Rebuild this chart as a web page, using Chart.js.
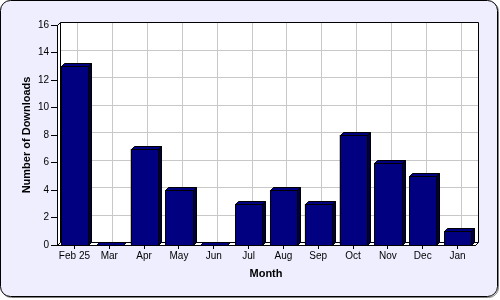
<!DOCTYPE html>
<html lang="en">
    <head>
        <meta charset="UTF-8">
        <title>Downloads per Month</title>
        <style>
            body { margin: 0; background: #ffffff; }
            #wrap { width: 500px; height: 300px; }
        </style>
    </head>

    <script src="https://cdn.jsdelivr.net/npm/chart.js"></script>

    <body>
        <div id="wrap"><canvas id="myChart" width="500" height="300"></canvas></div>
    </body>

    <script>
        // data
        const months = ["Feb 25", "Mar", "Apr", "May", "Jun", "Jul", "Aug", "Sep", "Oct", "Nov", "Dec", "Jan"];
        const downloads = [13, 0, 7, 4, 0, 3, 4, 3, 8, 6, 5, 1];
        const yTicks = [0, 2, 4, 6, 8, 10, 12, 14, 16];

        const DEPTH = 3;
        const NAVY = "#000080";
        const SIDE = "#00003c";

        function poly(ctx, pts, fill, stroke) {
            ctx.beginPath();
            ctx.moveTo(pts[0][0], pts[0][1]);
            for (let i = 1; i < pts.length; i++) ctx.lineTo(pts[i][0], pts[i][1]);
            ctx.closePath();
            if (fill) { ctx.fillStyle = fill; ctx.fill(); }
            if (stroke) { ctx.strokeStyle = stroke; ctx.lineWidth = 1; ctx.stroke(); }
        }

        // frame, back wall, floor and grid (grid sits on the back wall, shifted by the depth)
        const wallPlugin = {
            id: 'wall',
            beforeDraw(chart) {
                const ctx = chart.ctx;
                const a = chart.chartArea;
                const xs = chart.scales.x, ys = chart.scales.y;
                const L = Math.round(a.left) + 0.5, R = Math.round(a.right) + 0.5;
                const T = Math.round(a.top) + 0.5, B = Math.round(a.bottom) + 0.5;
                const d = DEPTH;
                ctx.save();
                // outer frame
                ctx.beginPath();
                ctx.roundRect(1.5, 1.5, 497, 296, 10);
                ctx.strokeStyle = "#808080"; ctx.lineWidth = 1; ctx.stroke();
                ctx.beginPath();
                ctx.roundRect(0.5, 0.5, 497, 296, 10);
                ctx.fillStyle = "#eeeeff"; ctx.fill();
                ctx.strokeStyle = "#000000"; ctx.stroke();

                // back wall
                ctx.fillStyle = "#ffffff";
                ctx.fillRect(L + d, T - d, R - L, B - T);
                // grid
                ctx.strokeStyle = "#c8c8c8";
                yTicks.forEach(v => {
                    if (v === 0) return;
                    const y = Math.round(ys.getPixelForValue(v)) + 0.5 - d;
                    ctx.beginPath(); ctx.moveTo(L + d, y); ctx.lineTo(R + d, y); ctx.stroke();
                });
                months.forEach((m, i) => {
                    const x = Math.round(xs.getPixelForValue(i)) + 0.5 + d;
                    ctx.beginPath(); ctx.moveTo(x, T - d); ctx.lineTo(x, B - d); ctx.stroke();
                });
                // back wall border
                ctx.strokeStyle = "#000000";
                ctx.beginPath();
                ctx.moveTo(L + d, T - d); ctx.lineTo(R + d, T - d); ctx.lineTo(R + d, B - d);
                ctx.stroke();
                // floor and left wall
                poly(ctx, [[L, B], [L + d, B - d], [R + d, B - d], [R, B]], "#ffffff", "#000000");
                poly(ctx, [[L, T], [L + d, T - d], [L + d, B - d], [L, B]], "#ffffff", "#000000");
                ctx.restore();
            }
        };

        // top and side faces of the bars
        const bar3dPlugin = {
            id: 'bar3d',
            afterDatasetsDraw(chart) {
                const ctx = chart.ctx;
                const d = DEPTH;
                ctx.save();
                chart.getDatasetMeta(0).data.forEach(bar => {
                    const p = bar.getProps(['x', 'y', 'base', 'width'], true);
                    const l = Math.round(p.x - p.width / 2) + 0.5;
                    const r = Math.round(p.x + p.width / 2) + 0.5;
                    const t = Math.round(p.y) + 0.5;
                    const b = Math.round(p.base) + 0.5;
                    poly(ctx, [[r, t], [r + d, t - d], [r + d, b - d], [r, b]], SIDE, "#000000");
                    poly(ctx, [[l, t], [l + d, t - d], [r + d, t - d], [r, t]], NAVY, "#000000");
                    if (b - t >= 1) {
                        ctx.fillStyle = NAVY;
                        ctx.fillRect(l, t, r - l, b - t);
                        ctx.strokeStyle = "#000000";
                        ctx.strokeRect(l, t, r - l, b - t);
                    }
                });
                ctx.restore();
            }
        };

        const tickFont = { family: "'Liberation Sans', Arial, sans-serif", size: 10 };
        const titleFont = { family: "'Liberation Sans', Arial, sans-serif", size: 11, weight: 'bold' };

        var ctx = document.getElementById('myChart').getContext('2d');
        var myChart = new Chart(ctx, {
            type: 'bar',
            data: {
                labels: months,
                datasets: [{
                    label: 'Number of Downloads',
                    data: downloads,
                    backgroundColor: NAVY,
                    borderColor: "#000000",
                    borderWidth: 1,
                    barPercentage: 0.78,
                    categoryPercentage: 1
                }]
            },
            options: {
                responsive: false,
                animation: false,
                layout: { padding: { left: 14.7, right: 25, top: 25, bottom: 15.8 } },
                plugins: {
                    legend: { display: false },
                    tooltip: { enabled: false }
                },
                scales: {
                    x: {
                        grid: { display: true, drawOnChartArea: false, offset: false, color: "#000000", tickLength: 4 },
                        border: { color: "#000000" },
                        ticks: { color: "#000000", font: tickFont, padding: 1, maxRotation: 0 },
                        title: { display: true, text: 'Month', color: "#000000", font: titleFont, padding: { top: 4, bottom: 4 } }
                    },
                    y: {
                        min: 0,
                        max: 16,
                        afterBuildTicks: axis => { axis.ticks = yTicks.map(v => ({ value: v })); },
                        grid: { display: true, drawOnChartArea: false, color: "#000000", tickLength: 6 },
                        border: { color: "#000000" },
                        ticks: { color: "#000000", font: tickFont, padding: 2 },
                        title: { display: true, text: 'Number of Downloads', color: "#000000", font: titleFont, padding: { top: 6, bottom: 2 } }
                    }
                }
            },
            plugins: [wallPlugin, bar3dPlugin]
        });
    </script>
</html>
